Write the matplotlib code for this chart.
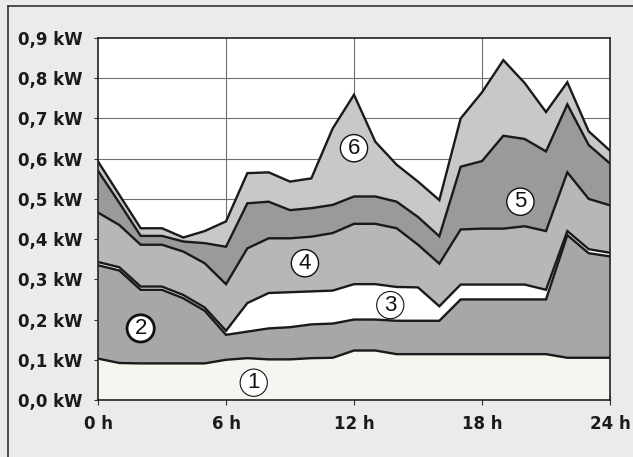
import numpy as np
import matplotlib
matplotlib.use("Agg")
import matplotlib.pyplot as plt
from matplotlib.lines import Line2D

# ---- data (kW per hour, stacked layers) ----
hours = list(range(25))
layer1 = [0.103, 0.092, 0.091, 0.091, 0.091, 0.091, 0.100, 0.104, 0.101, 0.101, 0.104, 0.105, 0.123,
          0.123, 0.114, 0.114, 0.114, 0.114, 0.114, 0.114, 0.114, 0.114, 0.105, 0.105, 0.105]
layer2 = [0.232, 0.230, 0.183, 0.183, 0.162, 0.131, 0.062, 0.066, 0.077, 0.080, 0.084, 0.085, 0.077,
          0.077, 0.083, 0.083, 0.083, 0.136, 0.136, 0.136, 0.136, 0.136, 0.305, 0.260, 0.252]
layer3 = [0.008, 0.008, 0.008, 0.008, 0.008, 0.008, 0.010, 0.071, 0.088, 0.087, 0.082, 0.082, 0.088,
          0.088, 0.084, 0.083, 0.036, 0.037, 0.037, 0.037, 0.037, 0.024, 0.010, 0.010, 0.009]
layer4 = [0.123, 0.105, 0.104, 0.104, 0.108, 0.110, 0.116, 0.136, 0.136, 0.134, 0.136, 0.143, 0.150,
          0.150, 0.146, 0.106, 0.106, 0.137, 0.139, 0.139, 0.145, 0.146, 0.146, 0.125, 0.118]
layer5 = [0.104, 0.055, 0.022, 0.022, 0.025, 0.050, 0.093, 0.112, 0.091, 0.070, 0.071, 0.070, 0.068,
          0.068, 0.066, 0.069, 0.068, 0.156, 0.168, 0.231, 0.217, 0.198, 0.169, 0.134, 0.104]
layer6 = [0.023, 0.020, 0.019, 0.019, 0.010, 0.030, 0.063, 0.075, 0.073, 0.071, 0.074, 0.190, 0.253,
          0.136, 0.092, 0.088, 0.090, 0.120, 0.171, 0.188, 0.139, 0.098, 0.055, 0.034, 0.032]
layers = [layer1, layer2, layer3, layer4, layer5, layer6]

layer_names = ["1", "2", "3", "4", "5", "6"]
label_hours = [7.3, 2.0, 13.7, 9.7, 19.8, 12.0]
label_values = [0.043, 0.178, 0.236, 0.340, 0.493, 0.626]

ytick_values = [0.0, 0.1, 0.2, 0.3, 0.4, 0.5, 0.6, 0.7, 0.8, 0.9]
ytick_labels = ["0,0 kW", "0,1 kW", "0,2 kW", "0,3 kW", "0,4 kW", "0,5 kW",
                "0,6 kW", "0,7 kW", "0,8 kW", "0,9 kW"]
xtick_values = [0, 6, 12, 18, 24]
xtick_labels = ["0 h", "6 h", "12 h", "18 h", "24 h"]

# ---- style ----
fill_colors = ["#f6f5ef", "#a7a7a7", "#ffffff", "#b7b7b7", "#9a9a9a", "#c8c8c8"]
circle_lw = [0.8, 2.0, 0.8, 1.0, 1.0, 1.0]

fig = plt.figure(figsize=(6.33, 4.57), dpi=100)
fig.patch.set_facecolor("#ebebea")
ax = fig.add_axes([98 / 633, 57 / 457, 512 / 633, 362 / 457])
ax.set_facecolor("white")

x = np.array(hours, dtype=float)
cum = np.zeros_like(x)
tops = []
for vals, col in zip(layers, fill_colors):
    new = cum + np.array(vals)
    ax.fill_between(x, cum, new, facecolor=col, edgecolor="none", zorder=2)
    tops.append(new)
    cum = new
for t in tops:
    ax.plot(x, t, color="#1a1a1a", lw=1.7, zorder=3, solid_joinstyle="miter")

ax.set_xlim(0, 24)
ax.set_ylim(0, 0.9)
ax.set_yticks(ytick_values)
ax.set_yticklabels(ytick_labels)
ax.set_xticks(xtick_values)
ax.set_xticklabels(xtick_labels)
for lab in ax.get_xticklabels() + ax.get_yticklabels():
    lab.set_fontweight("bold")
    lab.set_fontsize(12)
    lab.set_family("DejaVu Sans")
    lab.set_color("#1a1a1a")
ax.tick_params(axis="y", direction="out", length=3, width=0.8, pad=8, colors="#333333",
               labelcolor="#1a1a1a")
ax.tick_params(axis="x", direction="inout", length=7, width=0.8, pad=7, colors="#333333",
               labelcolor="#1a1a1a")

for yv in ytick_values[1:-1]:
    ax.axhline(yv, color="#707070", lw=0.8, zorder=1)
for xv in xtick_values[1:-1]:
    ax.axvline(xv, color="#707070", lw=0.8, zorder=1)

for s in ax.spines.values():
    s.set_color("#222222")
    s.set_linewidth(1.2)
    s.set_zorder(4)

for name, hx, vy, lw in zip(layer_names, label_hours, label_values, circle_lw):
    ax.text(hx, vy, name, ha="center", va="center", fontsize=16, family="Liberation Sans",
            color="#111111", zorder=5,
            bbox=dict(boxstyle="circle,pad=0.14", facecolor="white", edgecolor="#111111", lw=lw))

# outer frame (top and left edges visible)
fig.add_artist(Line2D([8 / 633, 8 / 633], [0, 1 - 6 / 457], color="#333333", lw=1.2))
fig.add_artist(Line2D([8 / 633, 1], [1 - 6 / 457, 1 - 6 / 457], color="#333333", lw=1.2))

fig.savefig("out.png", dpi=100, facecolor=fig.get_facecolor())
